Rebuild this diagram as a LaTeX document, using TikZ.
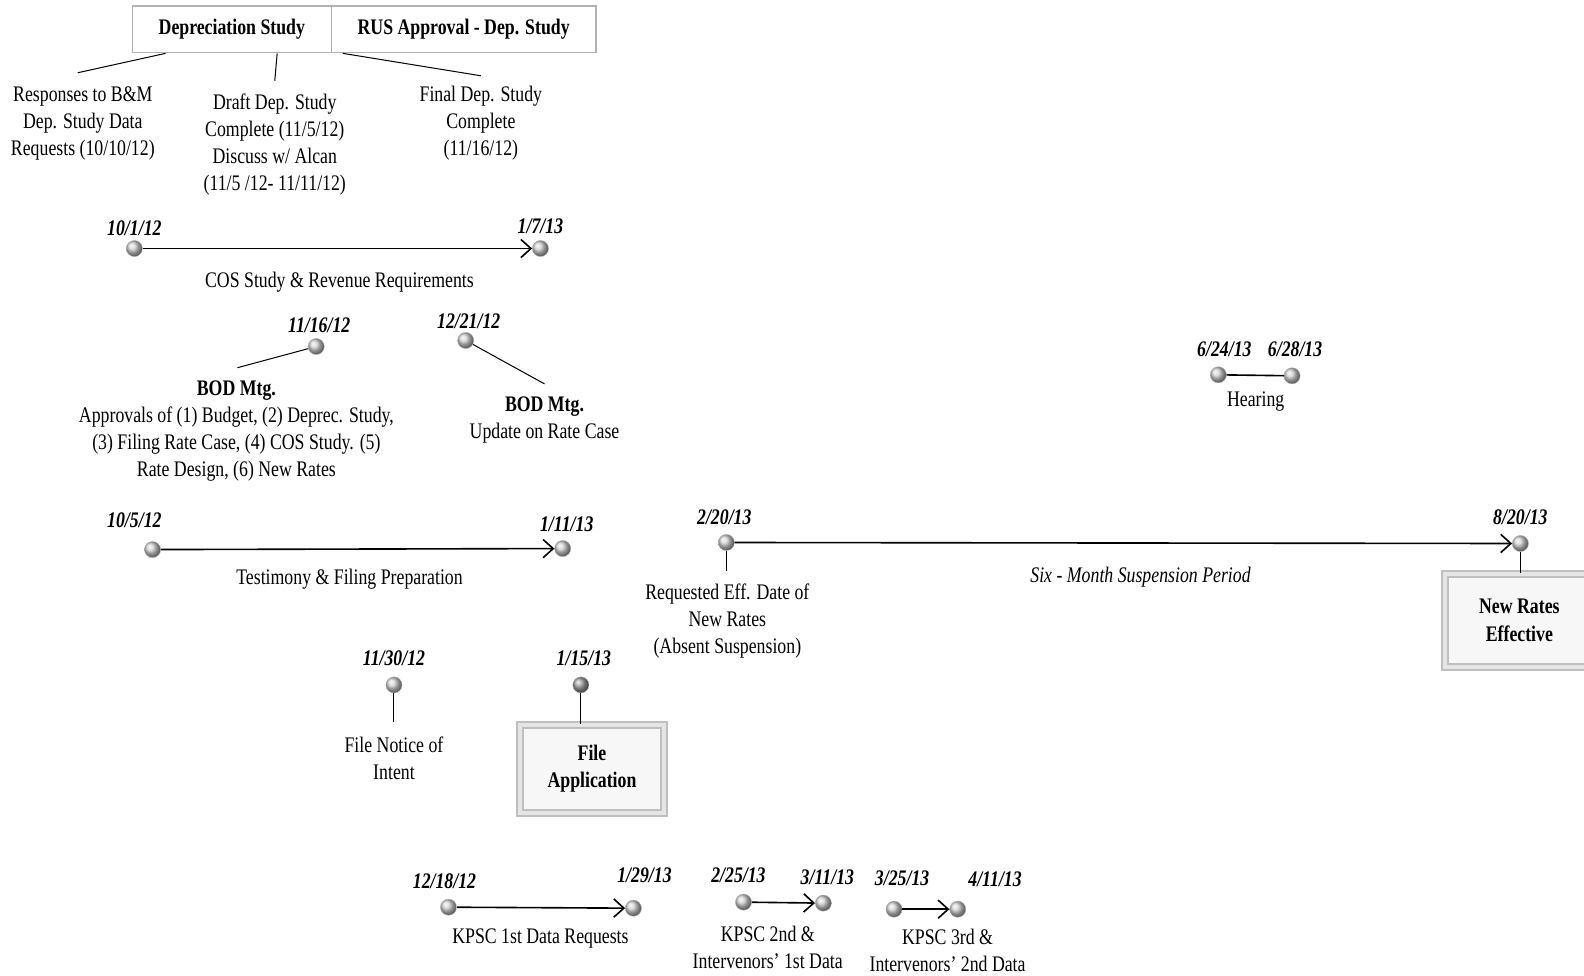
\documentclass[tikz,border=0pt]{standalone}
\usepackage{fontspec}
\setmainfont[FakeStretch=0.8]{Liberation Serif}
\usetikzlibrary{arrows.meta,calc}

\begin{document}
\begin{tikzpicture}[x=0.5pt, y=-0.5pt, font=\fontsize{11}{13.4}\selectfont,
    dot/.style={circle, inner sep=0pt, minimum size=8pt, shading=ball, ball color=gray!35, draw=gray!60, very thin},
    date/.style={font=\fontsize{11}{13}\selectfont\bfseries\itshape, inner sep=1pt},
    txt/.style={align=center, inner sep=1pt},
    span/.style={-{Straight Barb[length=5pt,width=9pt]}, line width=0.8pt},
    tick/.style={line width=0.5pt},
    head/.style={draw=gray!60, line width=0.8pt, minimum height=23pt, inner sep=0pt, font=\fontsize{11}{13}\selectfont\bfseries},
    event/.style={draw=gray!50, double=gray!20, double distance=2pt, line width=1pt, fill=gray!6, align=center, font=\fontsize{11}{13.6}\selectfont\bfseries}]
    \useasboundingbox (0,0) rectangle (1568,966);
    \node (dep) [head, minimum width=98.5pt] at (229.5,29) {Depreciation Study};
    \node (rus) [head, minimum width=131pt] at (459,29) {RUS Approval - Dep. Study\hspace{12pt}};
    \coordinate (c1) at (77,72);
    \coordinate (c2) at (272,80);
    \coordinate (c3) at (476,75);
    \node (resp) [txt] at (82,122) {Responses to B\&M\\Dep. Study Data\\Requests (10/10/12)};
    \node (draft) [txt] at (272,143) {Draft Dep. Study\\Complete (11/5/12)\\Discuss w/ Alcan\\(11/5 /12- 11/11/12)};
    \node (final) [txt] at (476,122) {Final Dep. Study\\Complete\\(11/16/12)};
    \node (d101) [dot] at (133,246) {};
    \node (t101) [date] at (133,226) {10/1/12};
    \node (d107) [dot] at (535,246) {};
    \node (t107) [date] at (535,224) {1/7/13};
    \node (cos) [txt] at (336,279) {COS Study \& Revenue Requirements};
    \node (d1116) [dot] at (313,343) {};
    \node (t1116) [date] at (316,322) {11/16/12};
    \coordinate (c4) at (235,364);
    \node (bod1) [txt] at (234,426.5) {\textbf{BOD Mtg.}\\Approvals of (1) Budget, (2) Deprec. Study,\\(3) Filing Rate Case, (4) COS Study. (5)\\Rate Design, (6) New Rates};
    \node (d1221) [dot] at (461,337) {};
    \node (t1221) [date] at (464,318) {12/21/12};
    \coordinate (c5) at (539,380);
    \node (bod2) [txt] at (539,416) {\textbf{BOD Mtg.}\\Update on Rate Case};
    \node (d624) [dot] at (1206,371) {};
    \node (t624) [date] at (1212,346) {6/24/13};
    \node (d628) [dot] at (1279,372) {};
    \node (t628) [date] at (1282,346) {6/28/13};
    \node (hear) [txt] at (1243,397) {Hearing};
    \node (d105) [dot] at (151,544) {};
    \node (t105) [date] at (133,515) {10/5/12};
    \node (d111) [dot] at (557,543) {};
    \node (t111) [date] at (561,519) {1/11/13};
    \node (test) [txt] at (346,573) {Testimony \& Filing Preparation};
    \node (d220) [dot] at (719,537) {};
    \node (t220) [date] at (717,512) {2/20/13};
    \node (d820) [dot] at (1505,538) {};
    \node (t820) [date] at (1505,512) {8/20/13};
    \node (susp) [txt, font=\fontsize{11}{13}\selectfont\itshape] at (1129,571) {Six - Month Suspension Period};
    \coordinate (c6) at (719,565);
    \node (req) [txt] at (720,615) {Requested Eff. Date of\\New Rates\\(Absent Suspension)};
    \node (newrates) [event, minimum width=74pt, minimum height=46pt] at (1504,614) {New Rates\\Effective};
    \node (d1130) [dot] at (390,678) {};
    \node (t1130) [date] at (390,652) {11/30/12};
    \coordinate (c7) at (390,715);
    \node (notice) [txt] at (390,751) {File Notice of\\Intent};
    \node (d115) [dot, ball color=gray!75] at (575,678) {};
    \node (t115) [date] at (578,652) {1/15/13};
    \node (fileapp) [event, minimum width=71pt, minimum height=43.5pt] at (586,761) {File\\Application};
    \node (d1218) [dot] at (444,898) {};
    \node (t1218) [date] at (440,872) {12/18/12};
    \node (d129) [dot] at (627,899) {};
    \node (t129) [date] at (638,866) {1/29/13};
    \node (kpsc1) [txt] at (535,929) {KPSC 1st Data Requests};
    \node (d225) [dot] at (736,893) {};
    \node (t225) [date] at (731,866) {2/25/13};
    \node (d311) [dot] at (815,894) {};
    \node (t311) [date] at (819,868) {3/11/13};
    \node (kpsc2) [txt] at (760,938) {KPSC 2nd \&\\Intervenors' 1st Data};
    \node (d325) [dot] at (885,900) {};
    \node (t325) [date] at (893,869) {3/25/13};
    \node (d411) [dot] at (948,900) {};
    \node (t411) [date] at (985,870) {4/11/13};
    \node (kpsc3) [txt] at (938,941) {KPSC 3rd \&\\Intervenors' 2nd Data};
    \path[tick]
    ($(dep.south west)!0.17!(dep.south east)$) edge (c1)
    ($(dep.south west)!0.726!(dep.south east)$) edge (c2)
    ($(rus.south west)!0.046!(rus.south east)$) edge (c3)
    (d1116) edge (c4)
    (d1221) edge (c5)
    (d220) edge (c6)
    (d1130) edge (c7)
    (d820) edge (d820 |- newrates.north)
    (d115) edge (d115 |- fileapp.north)
    ;
    \path[span]
    (d101) edge (d107)
    (d105) edge (d111)
    (d220) edge (d820)
    (d1218) edge (d129)
    (d225) edge (d311)
    (d325) edge (d411)
    ;
    \draw[line width=0.8pt] (d624) -- (d628);
  \end{tikzpicture}
\end{document}
